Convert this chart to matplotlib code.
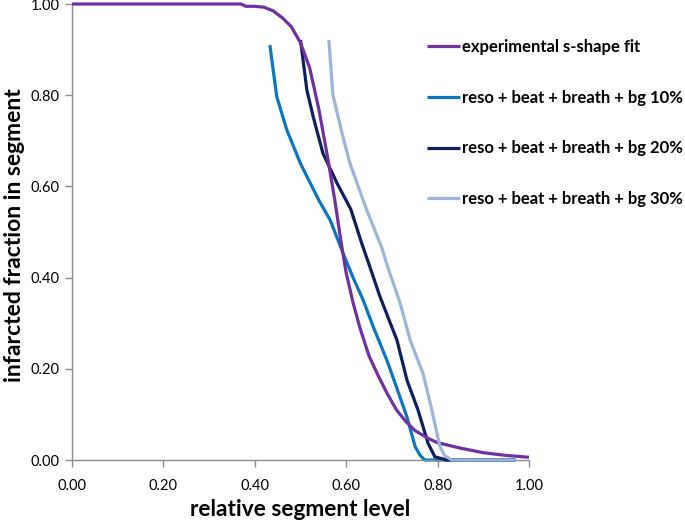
import matplotlib
matplotlib.use("Agg")
import matplotlib.pyplot as plt

plt.rcParams["font.family"] = ["Lato", "DejaVu Sans"]

# experimental s-shape fit
fit_x = [0.00, 0.10, 0.20, 0.30, 0.37, 0.38, 0.40, 0.42, 0.44, 0.46, 0.48, 0.50, 0.52, 0.54,
         0.56, 0.575, 0.59, 0.60, 0.615, 0.63, 0.65, 0.67, 0.69, 0.71, 0.73, 0.75, 0.78,
         0.80, 0.85, 0.90, 0.95, 1.00]
fit_y = [1.00, 1.00, 1.00, 1.00, 1.00, 0.995, 0.995, 0.993, 0.985, 0.97, 0.95, 0.915, 0.86,
         0.77, 0.66, 0.57, 0.47, 0.41, 0.345, 0.29, 0.228, 0.185, 0.145, 0.11, 0.085, 0.065,
         0.047, 0.038, 0.026, 0.016, 0.010, 0.006]

# reso + beat + breath + bg 10%
bg10_x = [0.433, 0.448, 0.47, 0.50, 0.54, 0.565, 0.593, 0.615, 0.637, 0.66, 0.689, 0.71,
          0.733, 0.751, 0.762, 0.772, 0.97]
bg10_y = [0.91, 0.797, 0.724, 0.65, 0.57, 0.526, 0.454, 0.40, 0.351, 0.29, 0.219, 0.16,
          0.094, 0.029, 0.01, 0.0, 0.0]

# reso + beat + breath + bg 20%
bg20_x = [0.50, 0.514, 0.528, 0.549, 0.58, 0.61, 0.634, 0.652, 0.674, 0.711, 0.733, 0.757,
          0.779, 0.794, 0.82, 0.97]
bg20_y = [0.921, 0.811, 0.752, 0.673, 0.607, 0.55, 0.475, 0.423, 0.358, 0.263, 0.175, 0.110,
          0.037, 0.007, 0.0, 0.0]

# reso + beat + breath + bg 30%
bg30_x = [0.562, 0.571, 0.59, 0.608, 0.645, 0.678, 0.691, 0.718, 0.740, 0.768, 0.785, 0.805,
          0.815, 0.831, 0.97]
bg30_y = [0.921, 0.800, 0.72, 0.651, 0.548, 0.465, 0.423, 0.344, 0.263, 0.19, 0.12, 0.03,
          0.01, 0.0, 0.0]

labels = ["experimental s-shape fit",
          "reso + beat + breath + bg 10%",
          "reso + beat + breath + bg 20%",
          "reso + beat + breath + bg 30%"]
colors = ["#7030A0", "#0A76C0", "#0F1F5C", "#9AB5D9"]
ticks = [0.0, 0.2, 0.4, 0.6, 0.8, 1.0]

fig = plt.figure(figsize=(6.85, 5.22), dpi=100)
ax = fig.add_axes([72 / 685, 62 / 522, 457 / 685, 456 / 522])

series = [(fit_x, fit_y), (bg10_x, bg10_y), (bg20_x, bg20_y), (bg30_x, bg30_y)]
handles = []
for (xs, ys), lab, col, z in zip(series, labels, colors, [3.5, 2, 3, 4]):
    h, = ax.plot(xs, ys, color=col, lw=2.3, label=lab, zorder=z,
                 solid_capstyle="butt", clip_on=False)
    handles.append(h)

ax.set_xlim(0, 1)
ax.set_ylim(0, 1)
ax.set_xticks(ticks)
ax.set_yticks(ticks)
ax.set_xticklabels([f"{t:.2f}" for t in ticks])
ax.set_yticklabels([f"{t:.2f}" for t in ticks])
for s in ["top", "right"]:
    ax.spines[s].set_visible(False)
for s in ["left", "bottom"]:
    ax.spines[s].set_color("#8C8C8C")
    ax.spines[s].set_linewidth(1.0)
ax.tick_params(direction="out", length=5, width=1.0, color="#8C8C8C",
               labelsize=10.5, labelcolor="black", pad=4)
ax.tick_params(axis="x", pad=9)

ax.set_xlabel("relative segment level", fontsize=16.3, fontweight="bold", va="center")
ax.xaxis.set_label_coords(0.5, (460 - 510) / 456)
ax.set_ylabel("infarcted fraction in segment", fontsize=16.5, fontweight="bold",
              va="center", ha="center")
ax.yaxis.set_label_coords((15 - 72) / 457, (460 - 235) / 456)

fig.legend(handles=handles, labels=labels, loc="upper left",
           bbox_to_anchor=(420 / 685, 1 - 32.5 / 522), frameon=False,
           prop={"weight": "bold", "size": 12}, handlelength=2.0, handletextpad=0.1,
           labelspacing=2.08, borderaxespad=0)

fig.savefig("out.png", dpi=100)
